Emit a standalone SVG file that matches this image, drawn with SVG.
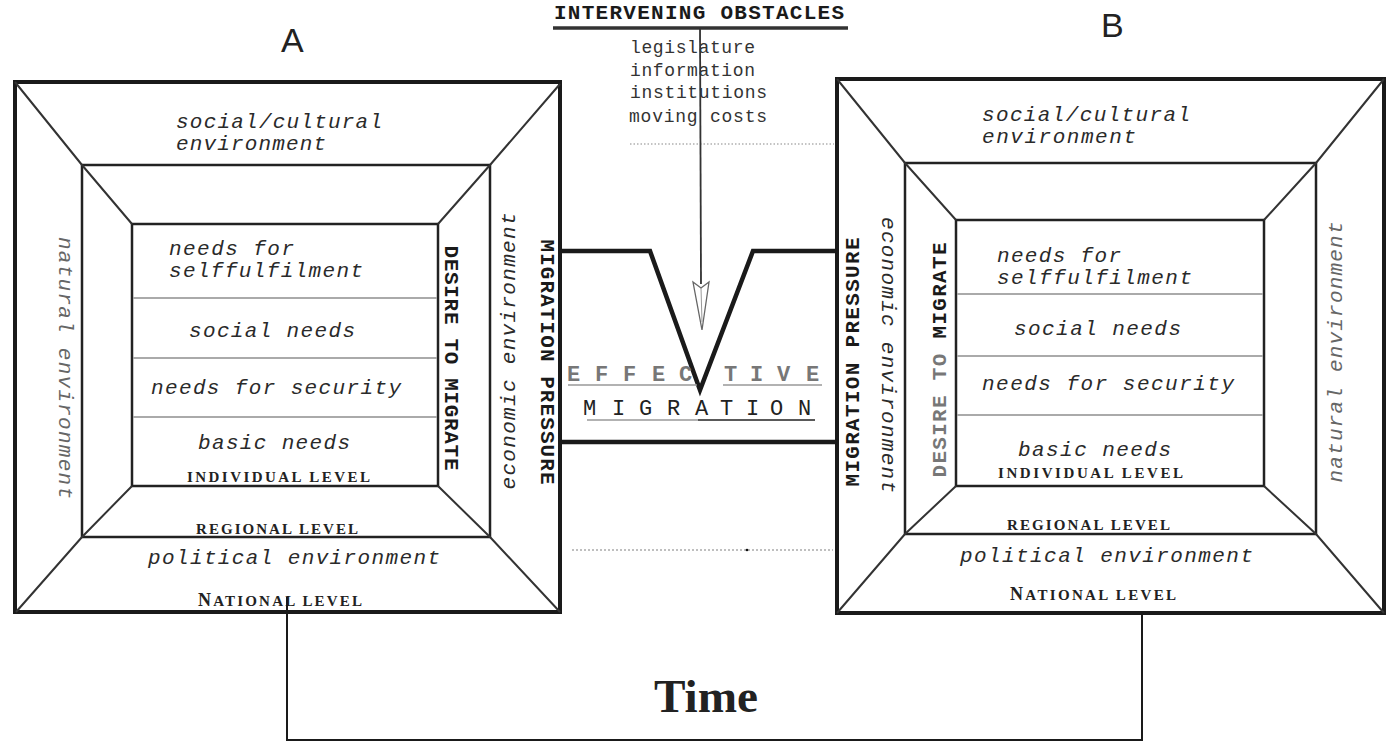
<svg xmlns="http://www.w3.org/2000/svg" width="1386" height="744" viewBox="0 0 1386 744">
<defs>
<style>
.outer{fill:none;stroke:#1a1a1a;stroke-width:4}
.frame{fill:none;stroke:#222;stroke-width:2.5}
.diag{stroke:#333;stroke-width:2;fill:none}
.sep{stroke:#aaa;stroke-width:2}
.it{font-family:"Liberation Mono",monospace;font-style:italic;font-size:21px;fill:#2a2a2a}
.itg{font-family:"Liberation Mono",monospace;font-style:italic;font-size:21px;fill:#666}
.lvl{font-family:"Liberation Serif",serif;font-weight:bold;font-size:15px;fill:#222}
.bm{font-family:"Liberation Mono",monospace;font-weight:bold;font-size:21px;fill:#1a1a1a}
.mono{font-family:"Liberation Mono",monospace;font-size:18px;fill:#333}
.ab{font-family:"Liberation Sans",sans-serif;font-size:34px;fill:#222}
.sp{font-family:"Liberation Mono",monospace;font-size:22px}
.line{stroke:#1a1a1a;fill:none}
</style>
</defs>
<rect width="1386" height="744" fill="#ffffff"/>

<text class="ab" x="281" y="52">A</text>
<text class="ab" x="1101" y="37">B</text>

<g id="box-A">
<rect class="outer" x="15" y="82" width="545" height="530"/>
<rect class="frame" x="82" y="165" width="408" height="372"/>
<rect class="frame" x="132" y="224" width="306" height="262"/>
<path class="diag" d="M15,82 L82,165 L132,224 M560,84 L490,165 L438,224 M16,612 L82,537 L132,486 M560,612 L490,537 L438,486"/>
<line class="sep" x1="133" y1="298" x2="437" y2="298"/>
<line class="sep" x1="133" y1="358" x2="437" y2="358"/>
<line class="sep" x1="133" y1="417" x2="437" y2="417"/>
<text class="it" x="176" y="128" textLength="206">social/cultural</text>
<text class="it" x="176" y="150" textLength="150">environment</text>
<text class="it" x="169" y="255" textLength="125">needs for</text>
<text class="it" x="169" y="277" textLength="194">selffulfilment</text>
<text class="it" x="189" y="337" textLength="166">social needs</text>
<text class="it" x="151" y="394" textLength="250">needs for security</text>
<text class="it" x="198" y="449" textLength="152">basic needs</text>
<text class="lvl" x="187" y="482" textLength="183">INDIVIDUAL LEVEL</text>
<text class="lvl" x="196" y="534" textLength="162">REGIONAL LEVEL</text>
<text class="it" x="148" y="564" textLength="292">political environment</text>
<text class="lvl" x="198" y="606" textLength="164"><tspan font-size="18">N</tspan>ATIONAL LEVEL</text>
<text class="itg" transform="translate(64,368) rotate(90)" text-anchor="middle" dominant-baseline="central" textLength="262">natural environment</text>
<text class="bm" transform="translate(450,358) rotate(90)" text-anchor="middle" dominant-baseline="central" textLength="225">DESIRE TO MIGRATE</text>
<text class="it" transform="translate(509,351) rotate(-90)" text-anchor="middle" dominant-baseline="central" textLength="277">economic environment</text>
<text class="bm" transform="translate(546,362) rotate(90)" text-anchor="middle" dominant-baseline="central" textLength="245">MIGRATION PRESSURE</text>
</g>

<g id="box-B">
<rect class="outer" x="837" y="79" width="547" height="534"/>
<rect class="frame" x="905" y="163" width="411" height="371"/>
<rect class="frame" x="956" y="220" width="308" height="266"/>
<path class="diag" d="M837,79 L905,163 L956,220 M1384,79 L1316,163 L1264,220 M837,613 L905,534 L956,486 M1384,613 L1316,534 L1264,486"/>
<line class="sep" x1="957" y1="294" x2="1263" y2="294"/>
<line class="sep" x1="957" y1="356" x2="1263" y2="356"/>
<line class="sep" x1="957" y1="415" x2="1263" y2="415"/>
<text class="it" x="982" y="121" textLength="208">social/cultural</text>
<text class="it" x="982" y="143" textLength="154">environment</text>
<text class="it" x="997" y="262" textLength="124">needs for</text>
<text class="it" x="997" y="284" textLength="195">selffulfilment</text>
<text class="it" x="1014" y="335" textLength="167">social needs</text>
<text class="it" x="982" y="390" textLength="252">needs for security</text>
<text class="it" x="1018" y="456" textLength="153">basic needs</text>
<text class="lvl" x="998" y="478" textLength="185">INDIVIDUAL LEVEL</text>
<text class="lvl" x="1007" y="530" textLength="163">REGIONAL LEVEL</text>
<text class="it" x="960" y="562" textLength="293">political environment</text>
<text class="lvl" x="1010" y="600" textLength="166"><tspan font-size="18">N</tspan>ATIONAL LEVEL</text>
<text class="bm" transform="translate(853,362) rotate(-90)" text-anchor="middle" dominant-baseline="central" textLength="249">MIGRATION PRESSURE</text>
<text class="it" transform="translate(887,355) rotate(90)" text-anchor="middle" dominant-baseline="central" textLength="276">economic environment</text>
<text class="bm" transform="translate(940,360) rotate(-90)" text-anchor="middle" dominant-baseline="central" textLength="235"><tspan fill="#777">DESIRE TO </tspan>MIGRATE</text>
<text class="itg" transform="translate(1336,352) rotate(-90)" text-anchor="middle" dominant-baseline="central" textLength="261">natural environment</text>
</g>

<g id="obstacles">
<text class="bm" x="554" y="19" textLength="290">INTERVENING OBSTACLES</text>
<line x1="553" y1="28" x2="848" y2="28" stroke="#333" stroke-width="3.5"/>
<text class="mono" x="630" y="53" textLength="125">legislature</text>
<text class="mono" x="630" y="76" textLength="125">information</text>
<text class="mono" x="630" y="98" textLength="137">institutions</text>
<text class="mono" x="629" y="122" textLength="138">moving costs</text>
<line x1="630" y1="144" x2="834" y2="144" stroke="#888" stroke-width="1.2" stroke-dasharray="1.5 2"/>
</g>

<g id="effective-migration">
<path class="line" stroke-width="4.5" stroke-linejoin="miter" d="M562,251 L650,251 L700,390 L753,251 L837,251"/>
<line class="line" x1="562" y1="442" x2="837" y2="442" stroke-width="4.5"/>
<text class="sp" fill="#777" font-weight="bold" y="381" x="567 595 623 652 679 724 750 777 806">EFFECTIVE</text>
<line x1="568" y1="385" x2="697" y2="385" stroke="#999" stroke-width="1.5"/>
<line x1="723" y1="385" x2="822" y2="385" stroke="#999" stroke-width="1.5"/>
<text class="sp" fill="#222" y="415" x="583 612 639 667 695 720 746 770 798">MIGRATION</text>
<line x1="587" y1="420" x2="698" y2="420" stroke="#999" stroke-width="1.5"/>
<line x1="698" y1="420" x2="815" y2="420" stroke="#222" stroke-width="1.5"/>
<line x1="572" y1="550" x2="833" y2="550" stroke="#aaa" stroke-width="1.5" stroke-dasharray="2 2"/>
<circle cx="747" cy="550" r="1.3" fill="#111"/>
</g>

<g id="connectors">
<line x1="700" y1="28" x2="701" y2="284" stroke="#333" stroke-width="1.8"/>
<polygon points="693,282 701,288 709,282 702,330" fill="#fff" stroke="#666" stroke-width="1.3"/>
<line x1="701" y1="288" x2="702" y2="322" stroke="#999" stroke-width="1"/>
<polyline class="line" stroke-width="2" points="287,597 287,740 1142,740 1142,613"/>
</g>

<g id="time">
<text x="654" y="712" font-family="Liberation Serif, serif" font-weight="bold" font-size="46" fill="#222" textLength="104" lengthAdjust="spacingAndGlyphs">Time</text>
</g>
</svg>
